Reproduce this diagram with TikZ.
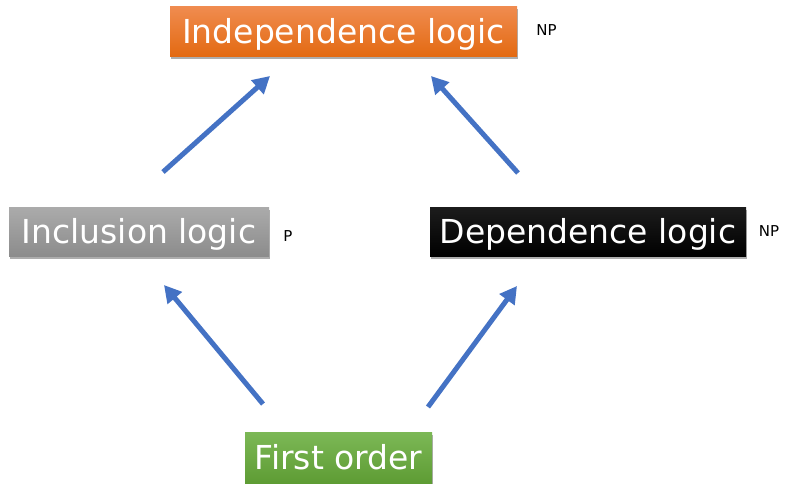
\documentclass[tikz,border=0pt]{standalone}
\usepackage{fontspec}
\setmainfont{DejaVu Sans}
\usetikzlibrary{shadows,arrows.meta}
\definecolor{arrowblue}{HTML}{4472C4}
\definecolor{orangetop}{HTML}{F08C50}
\definecolor{orangebot}{HTML}{E36A12}
\definecolor{graytop}{HTML}{ABABAB}
\definecolor{graybot}{HTML}{8C8C8C}
\definecolor{greentop}{HTML}{7CB856}
\definecolor{greenbot}{HTML}{5E9C34}
\definecolor{blacktop}{HTML}{1C1C1C}
\definecolor{blackbot}{HTML}{000000}
\begin{document}
\begin{tikzpicture}[x=1pt,y=-1pt,
  logicbox/.style={rectangle, inner sep=0pt, text=white,
    font=\fontsize{33}{40}\selectfont, text height=24pt, text depth=0pt,
    drop shadow={shadow xshift=1.2pt, shadow yshift=-2.5pt, opacity=0.4, fill=black!80}},
  cplx/.style={font=\fontsize{15}{18}\selectfont, text=black, inner sep=0pt,
    text height=10.9pt, text depth=0pt},
  liftarrow/.style={draw=arrowblue, line width=5pt,
    -{Triangle[length=17pt,width=18pt]}}]
\useasboundingbox (0,0) rectangle (785,483);

% the four logics
\node[logicbox, minimum width=347pt, minimum height=50pt,
  top color=orangetop, bottom color=orangebot] (indep) at (343.5,31) {Independence logic};
\node[logicbox, minimum width=260pt, minimum height=49pt,
  top color=graytop, bottom color=graybot] (incl) at (139,231.5) {Inclusion logic};
\node[logicbox, minimum width=316pt, minimum height=49pt,
  top color=blacktop, bottom color=blackbot] (dep) at (588,231.5) {Dependence logic};
\node[logicbox, minimum width=187pt, minimum height=51pt,
  top color=greentop, bottom color=greenbot] (fo) at (338.5,457.5) {First order};

% complexity labels
\node[cplx] (npindep) at (546.5,30.5) {NP};
\node[cplx] (pincl) at (288,236) {P};
\node[cplx] (npdep) at (769,231) {NP};

% arrow end points
\coordinate (inclup) at (163,172);
\coordinate (indepL) at (270,76);
\coordinate (depup) at (518,173);
\coordinate (indepR) at (431,76);
\coordinate (foL) at (263,404);
\coordinate (inclbot) at (164,285);
\coordinate (foR) at (428,407);
\coordinate (depbot) at (517,286);

\draw[liftarrow] (inclup) -- (indepL);
\draw[liftarrow] (depup) -- (indepR);
\draw[liftarrow] (foL) -- (inclbot);
\draw[liftarrow] (foR) -- (depbot);
\end{tikzpicture}
\end{document}
